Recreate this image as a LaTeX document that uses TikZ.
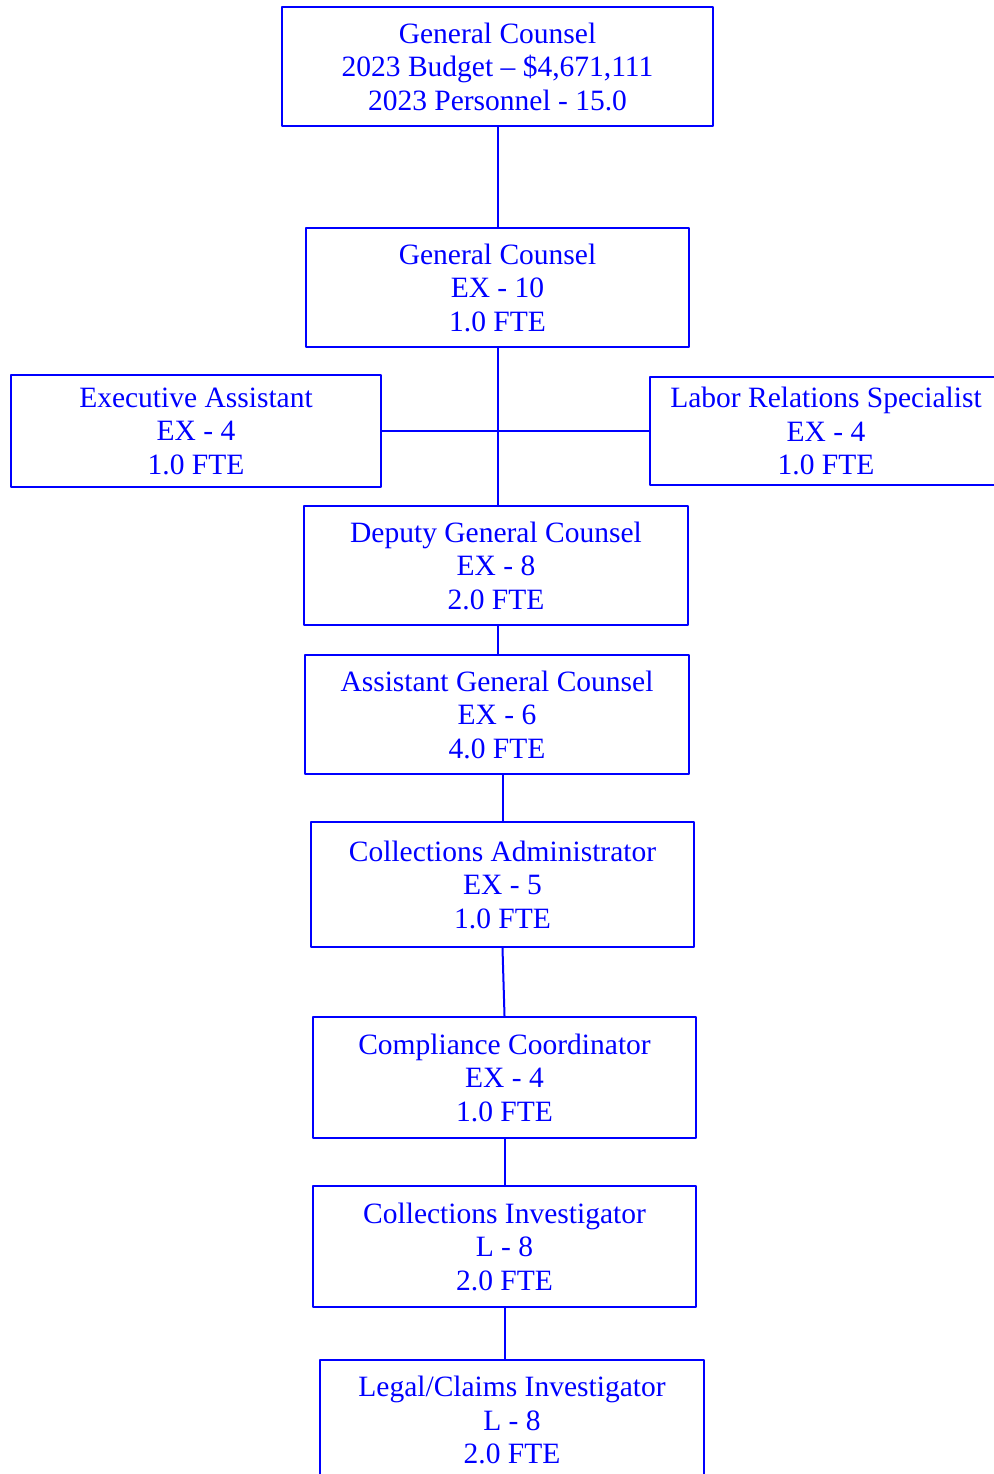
\documentclass[tikz,border=0pt]{standalone}
\usepackage{fontspec}
\setmainfont{Liberation Serif}
\usepackage{tikz}

\tikzset{
  post/.style={draw=blue,line width=2.2pt,text=blue,align=center,inner sep=0pt,
    font=\fontsize{29.5}{33.5}\selectfont},
  link/.style={draw=blue,line width=2pt}
}

\begin{document}
\begin{tikzpicture}[line cap=round,line join=round,x=1pt,y=-1pt]
\useasboundingbox (0,0) rectangle (993,1474);
% boxes
\node[post,minimum width=431pt,minimum height=119pt] (top) at (497.5,66.5) {General Counsel\\2023 Budget -- \$4,671,111\\2023 Personnel - 15.0};
\node[post,minimum width=383pt,minimum height=119pt] (gc) at (497.5,287.5) {General Counsel\\EX - 10\\1.0 FTE};
\node[post,minimum width=370pt,minimum height=112pt] (exec) at (196,431) {Executive Assistant\\EX - 4\\1.0 FTE};
\node[post,minimum width=352pt,minimum height=108pt] (labor) at (826,431) {Labor Relations Specialist\\EX - 4\\1.0 FTE};
\node[post,minimum width=384pt,minimum height=119pt] (deputy) at (496,565.5) {Deputy General Counsel\\EX - 8\\2.0 FTE};
\node[post,minimum width=384pt,minimum height=119pt] (agc) at (497,714.5) {Assistant General Counsel\\EX - 6\\4.0 FTE};
\node[post,minimum width=383pt,minimum height=125pt] (admin) at (502.5,884.5) {Collections Administrator\\EX - 5\\1.0 FTE};
\node[post,minimum width=383pt,minimum height=121pt] (compl) at (504.5,1077.5) {Compliance Coordinator\\EX - 4\\1.0 FTE};
\node[post,minimum width=383pt,minimum height=121pt] (inv) at (504.5,1246.5) {Collections Investigator\\L - 8\\2.0 FTE};
\node[post,minimum width=384pt,minimum height=120pt] (legal) at (512,1420) {Legal/Claims Investigator\\L - 8\\2.0 FTE};
% lines
\draw[link] (top.south) -- (gc.north);
\draw[link] (gc.south) -- (gc.south |- deputy.north);
\draw[link] (exec.east) -- (labor.west);
\draw[link] (gc.south |- deputy.south) -- (gc.south |- agc.north);
\draw[link] (agc.south -| admin.north) -- (admin.north);
\draw[link] (admin.south) -- (compl.north);
\draw[link] (compl.south) -- (inv.north);
\draw[link] (inv.south) -- (inv.south |- legal.north);
\end{tikzpicture}
\end{document}
